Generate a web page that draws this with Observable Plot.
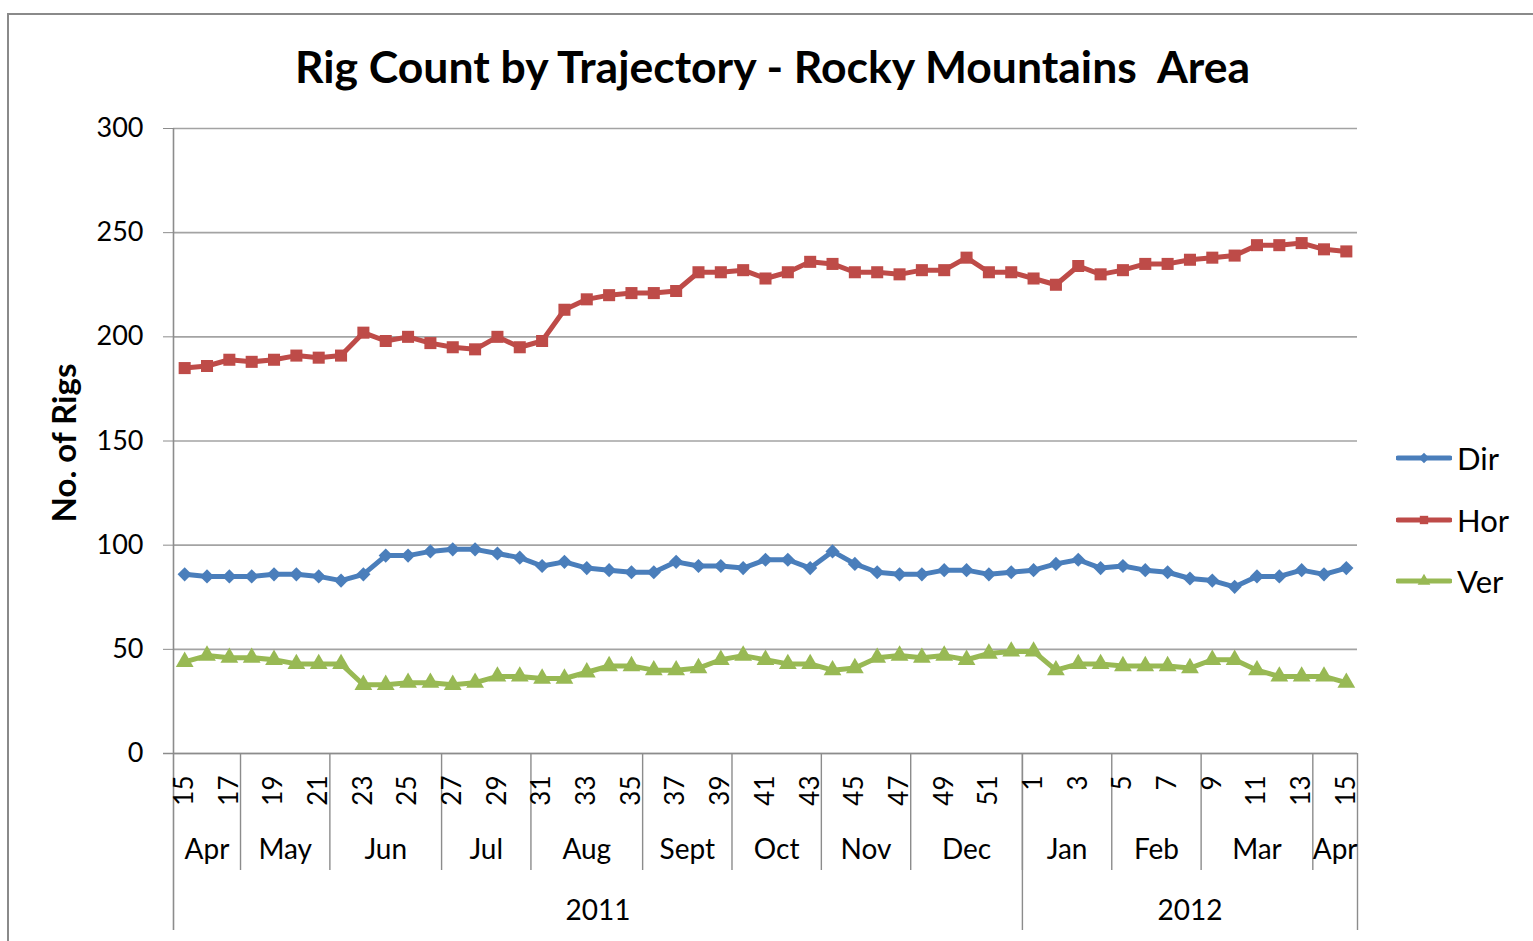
<!DOCTYPE html>
<html>
<head>
<meta charset="utf-8">
<script src="https://cdn.jsdelivr.net/npm/d3@7"></script>
<script src="https://cdn.jsdelivr.net/npm/@observablehq/plot@0.6"></script>
<style>
  html, body { margin: 0; padding: 0; background: #fff; }
  #wrap { position: relative; width: 1533px; height: 941px; overflow: hidden; font-family: Lato, "Open Sans", sans-serif; }
  #border { position: absolute; left: 7px; top: 13px; width: 1600px; height: 1000px; border: 2px solid #8a8a8a; box-sizing: border-box; }
  #chart { position: absolute; left: 0; top: 0; }
  #legend { position: absolute; left: 1396px; top: 0; }
  .lg { position: absolute; left: 0; height: 40px; display: flex; align-items: center; white-space: nowrap; font-size: 31px; color: #000; }
  .lg svg { margin-right: 5px; }
</style>
</head>
<body>
<div id="wrap">
  <div id="border"></div>
  <div id="chart"></div>
  <div id="legend"></div>
</div>
<script>
// ---- data ----
const titleText = "Rig Count by Trajectory - Rocky Mountains  Area";
const yLabel = "No. of Rigs";
const weeks = [15,16,17,18,19,20,21,22,23,24,25,26,27,28,29,30,31,32,33,34,35,36,37,38,39,40,41,42,43,44,45,46,47,48,49,50,51,52,1,2,3,4,5,6,7,8,9,10,11,12,13,14,15];
const monthNames = ["Apr","May","Jun","Jul","Aug","Sept","Oct","Nov","Dec","Jan","Feb","Mar","Apr"];
const monthWeekCounts = [3,4,5,4,5,4,4,4,5,4,4,5,2];
const yearNames = ["2011","2012"];
const yearWeekCounts = [38,15];
const seriesNames = ["Dir","Hor","Ver"];
const dir = [86,85,85,85,86,86,85,83,86,95,95,97,98,98,96,94,90,92,89,88,87,87,92,90,90,89,93,93,89,97,91,87,86,86,88,88,86,87,88,91,93,89,90,88,87,84,83,80,85,85,88,86,89];
const hor = [185,186,189,188,189,191,190,191,202,198,200,197,195,194,200,195,198,213,218,220,221,221,222,231,231,232,228,231,236,235,231,231,230,232,232,238,231,231,228,225,234,230,232,235,235,237,238,239,244,244,245,242,241];
const ver = [44,47,46,46,45,43,43,43,33,33,34,34,33,34,37,37,36,36,39,42,42,40,40,41,45,47,45,43,43,40,41,46,47,46,47,45,48,49,49,40,43,43,42,42,42,41,45,45,40,37,37,37,34];
const yTicks = [0,50,100,150,200,250,300];

// ---- styles ----
const colors = {Dir: "#4A7EBB", Hor: "#BE4B48", Ver: "#98B954"};
const symbols = {Dir: "diamond2", Hor: "square", Ver: "triangle"};
const radii = {Dir: 6.4, Hor: 6.8, Ver: 6.6};
const gridColor = "#a3a3a3";
const axisColor = "#8c8c8c";

// ---- derived tables ----
const valuesBySeries = {Dir: dir, Hor: hor, Ver: ver};
const rows = seriesNames.flatMap(s => valuesBySeries[s].map((v, i) => ({series: s, i, week: weeks[i], value: v})));
const weekLabels = weeks.map((w, i) => ({i, w})).filter(d => d.w % 2 === 1);

function groups(names, counts) {
  let start = 0;
  return names.map((n, k) => {
    const g = {name: n, start, end: start + counts[k] - 1};
    start += counts[k];
    return g;
  });
}
const months = groups(monthNames, monthWeekCounts);
const years = groups(yearNames, yearWeekCounts);
const monthBounds = months.map(m => m.end + 0.5);
const yearBounds = [-0.5, ...years.map(y => y.end + 0.5)];

const frameH = 753 - 128;

const marks = [
  Plot.gridY(yTicks, {stroke: gridColor, strokeOpacity: 1, strokeWidth: 1.6}),
  Plot.axisY(yTicks, {tickSize: 10, tickPadding: 20, fontSize: 27, stroke: axisColor, fill: "#000", label: null}),
  Plot.ruleY([0], {stroke: axisColor, strokeWidth: 1.6, insetLeft: -10}),
  Plot.ruleX([-0.5], {stroke: axisColor, strokeWidth: 1.6, insetBottom: -177}),
  Plot.ruleX(monthBounds.slice(0, -1), {stroke: axisColor, strokeWidth: 1.4, insetTop: frameH, insetBottom: -117}),
  Plot.ruleX(yearBounds.slice(1), {stroke: axisColor, strokeWidth: 1.4, insetTop: frameH, insetBottom: -177}),
  Plot.text(weekLabels, {x: "i", text: d => String(d.w), frameAnchor: "bottom", dy: 22, rotate: -90, textAnchor: "end", lineAnchor: "middle", fontSize: 26, fill: "#000"}),
  Plot.text(months, {x: d => (d.start + d.end) / 2, text: "name", frameAnchor: "bottom", dy: 97, lineAnchor: "middle", fontSize: 28, fill: "#000"}),
  Plot.text(years, {x: d => (d.start + d.end) / 2, text: "name", frameAnchor: "bottom", dy: 158, lineAnchor: "middle", fontSize: 28, fill: "#000"}),
  Plot.text([titleText], {frameAnchor: "top", dx: 7, dy: -46, lineAnchor: "bottom", textAnchor: "middle", fontSize: 44.5, fontWeight: "bold", fill: "#000"}),
  Plot.text([yLabel], {frameAnchor: "left", dx: -108, dy: 2, rotate: -90, textAnchor: "middle", lineAnchor: "middle", fontSize: 33, fontWeight: "bold", fill: "#000"}),
];
for (const s of seriesNames) {
  const data = rows.filter(d => d.series === s);
  marks.push(Plot.line(data, {x: "i", y: "value", stroke: colors[s], strokeWidth: 5, strokeLinejoin: "round", strokeLinecap: "round"}));
  marks.push(Plot.dot(data, {x: "i", y: "value", fill: colors[s], stroke: "none", symbol: symbols[s], r: radii[s]}));
}

const chart = Plot.plot({
  width: 1533,
  height: 941,
  marginLeft: 173,
  marginRight: 176,
  marginTop: 128,
  marginBottom: 188,
  style: {fontFamily: "Lato, 'Open Sans', sans-serif", background: "transparent", overflow: "visible"},
  x: {type: "linear", domain: [-0.5, weeks.length - 0.5], axis: null},
  y: {domain: [0, 300], axis: null},
  marks
});
document.getElementById("chart").appendChild(chart);

// ---- legend ----
const legendY = {Dir: 458, Hor: 520, Ver: 581};
const legend = d3.select("#legend");
for (const s of seriesNames) {
  const row = legend.append("div").attr("class", "lg").style("top", (legendY[s] - 20) + "px");
  const svg = row.append("svg").attr("width", 56).attr("height", 20);
  svg.append("line").attr("x1", 2).attr("x2", 54).attr("y1", 10).attr("y2", 10)
    .attr("stroke", colors[s]).attr("stroke-width", 5).attr("stroke-linecap", "round");
  const sym = {diamond2: d3.symbolDiamond2, square: d3.symbolSquare, triangle: d3.symbolTriangle}[symbols[s]];
  svg.append("path").attr("transform", "translate(28,10)")
    .attr("d", d3.symbol(sym, 70)()).attr("fill", colors[s]);
  row.append("span").text(s);
}
</script>
</body>
</html>
